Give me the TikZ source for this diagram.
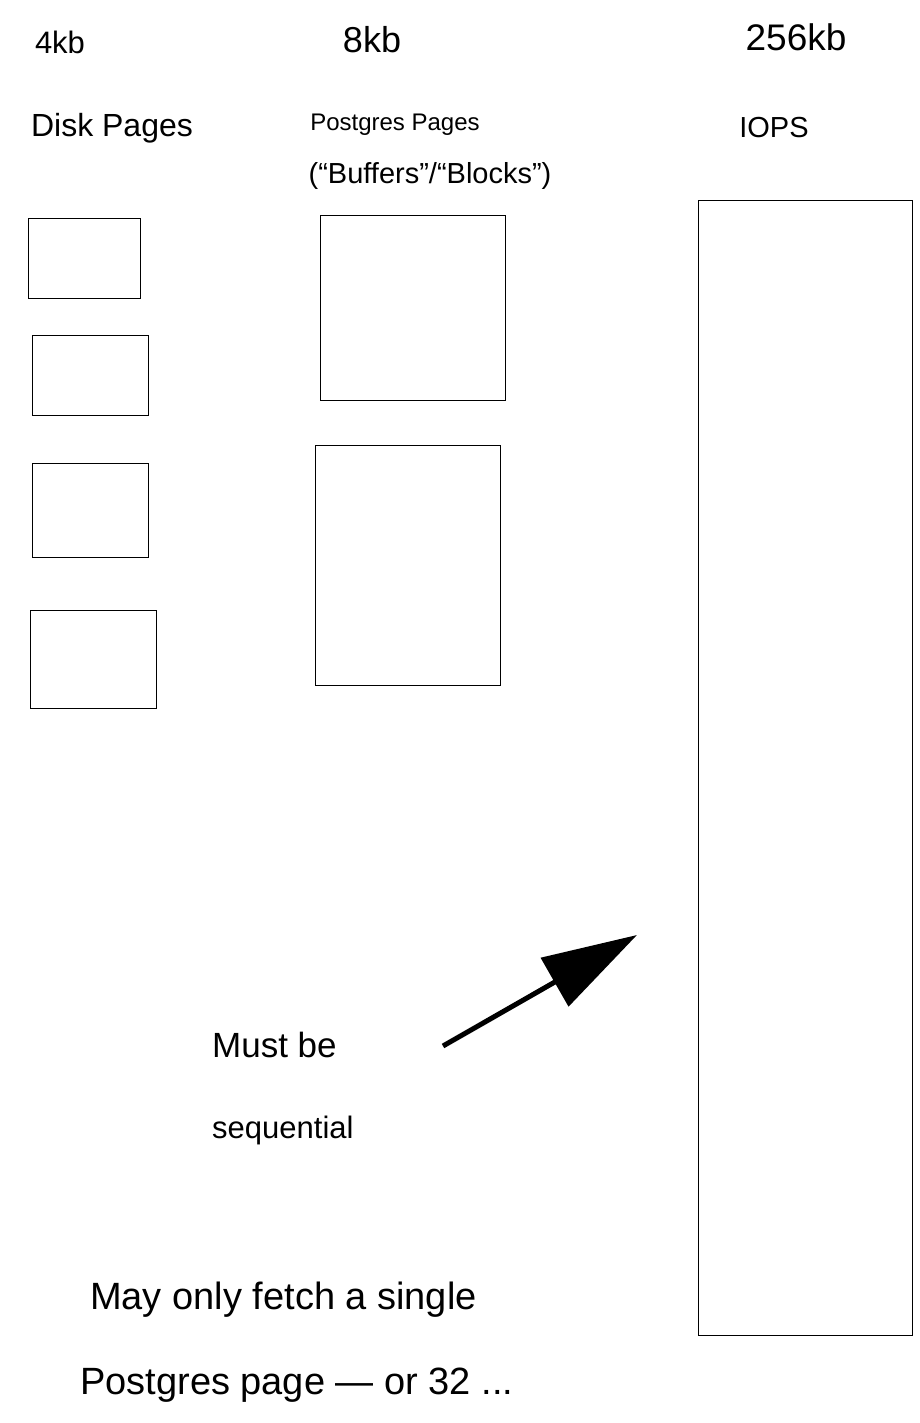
\documentclass[tikz,border=0pt]{standalone}
\usepackage{fontspec}
\setmainfont{Liberation Sans}
\usetikzlibrary{arrows.meta}
\begin{document}
\begin{tikzpicture}[x=1pt,y=-1pt,
  pagebox/.style={draw=black,line width=1.3pt,inner sep=0pt,anchor=north west},
  lbl/.style={inner sep=0pt,anchor=center},
  note/.style={inner sep=0pt,anchor=west}]
\useasboundingbox[fill=white] (0,0) rectangle (919,1423);
% headings
\node[lbl,font=\fontsize{31}{34}\selectfont] (kb4) at (60,42) {4kb};
\node[lbl,font=\fontsize{36}{40}\selectfont] (kb8) at (372,40) {8kb};
\node[lbl,font=\fontsize{37}{40}\selectfont] (kb256) at (796,37) {256kb};
\node[lbl,font=\fontsize{32}{36}\selectfont] (disk) at (112,128) {Disk Pages};
\node[lbl,font=\fontsize{24}{28}\selectfont] (pg1) at (395,125) {Postgres Pages};
\node[lbl,font=\fontsize{29}{32}\selectfont] (pg2) at (430,176) {(``Buffers''/``Blocks'')};
\node[lbl,font=\fontsize{29}{32}\selectfont] (iops) at (774,128) {IOPS};
% disk pages
\node[pagebox,minimum width=112pt,minimum height=80pt] (d1) at (28,218) {};
\node[pagebox,minimum width=116pt,minimum height=80pt] (d2) at (32,335) {};
\node[pagebox,minimum width=116pt,minimum height=94pt] (d3) at (32,463) {};
\node[pagebox,minimum width=126pt,minimum height=98pt] (d4) at (30,610) {};
% postgres pages
\node[pagebox,minimum width=185pt,minimum height=185pt] (p1) at (320,215) {};
\node[pagebox,minimum width=185pt,minimum height=240pt] (p2) at (315,445) {};
% IOPS block
\node[pagebox,minimum width=214pt,minimum height=1135pt] (io) at (698,200) {};
% arrow
\coordinate (a0) at (443,1046);
\coordinate (a1) at (637,935);
\draw[line width=5pt,-{Triangle[length=95pt,width=55pt]}] (a0) -- (a1);
% notes
\node[note,font=\fontsize{35}{40}\selectfont] (must) at (212,1045) {Must be};
\node[note,font=\fontsize{31}{36}\selectfont] (seq) at (212,1130) {sequential};
\node[note,font=\fontsize{38}{42}\selectfont] (may) at (90,1300) {May only fetch a single};
\node[note,font=\fontsize{38}{42}\selectfont] (pgpage) at (80,1385) {Postgres page --- or 32 ...};
\end{tikzpicture}
\end{document}
